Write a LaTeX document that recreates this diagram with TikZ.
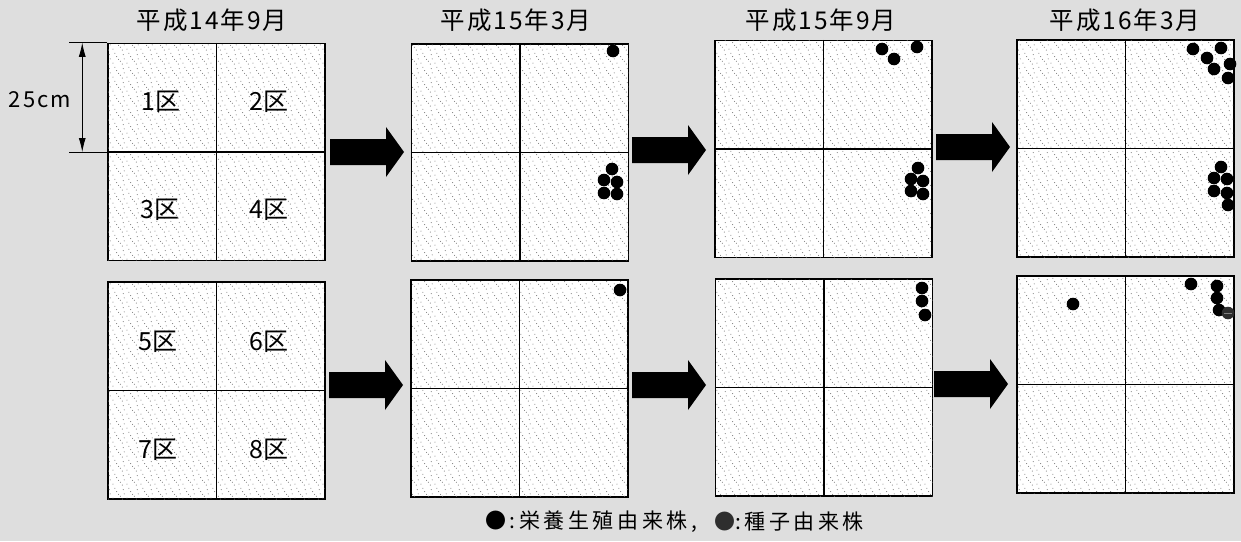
\documentclass[tikz,border=0pt]{standalone}
\usepackage{fontspec}
\setmainfont{Noto Sans CJK JP}
\newfontfamily\jpt[LetterSpace=8]{Noto Sans CJK JP}
\newfontfamily\jpl[LetterSpace=4]{Noto Sans CJK JP}
\newfontfamily\jpw[LetterSpace=10]{Noto Sans CJK JP}
\newfontfamily\jpg[LetterSpace=17]{Noto Sans CJK JP}
\usetikzlibrary{patterns,arrows.meta}
\definecolor{bg}{gray}{0.87}
\definecolor{seed}{gray}{0.18}
\pgfdeclarepatternformonly{speckle}{\pgfpointorigin}{\pgfqpoint{14pt}{14pt}}{\pgfqpoint{14pt}{14pt}}{%
  \pgfpathcircle{\pgfqpoint{1pt}{2pt}}{0.55pt}
  \pgfpathcircle{\pgfqpoint{5pt}{9pt}}{0.55pt}
  \pgfpathcircle{\pgfqpoint{9pt}{4pt}}{0.55pt}
  \pgfpathcircle{\pgfqpoint{12pt}{11pt}}{0.55pt}
  \pgfpathcircle{\pgfqpoint{3pt}{12.5pt}}{0.55pt}
  \pgfpathcircle{\pgfqpoint{7pt}{6pt}}{0.55pt}
  \pgfpathcircle{\pgfqpoint{11pt}{1pt}}{0.55pt}
  \pgfpathcircle{\pgfqpoint{13pt}{6.5pt}}{0.55pt}
  \pgfusepath{fill}}
\tikzset{
  panel/.style={draw=black, line width=1.5pt, fill=white, minimum width=217pt, minimum height=217pt,
    inner sep=0pt, postaction={pattern=speckle, pattern color=black!55}},
  divider/.style={draw=black, line width=1.3pt},
  title/.style={font=\fontsize{24.5}{24.5}\selectfont\jpt, inner sep=0pt},
  plot/.style={font=\fontsize{25}{25}\selectfont\jpl, inner sep=0pt},
  legend/.style={font=\fontsize{21}{21}\selectfont\jpg, inner sep=0pt, anchor=west},
  dot/.style={fill=black},
  seeddot/.style={fill=seed},
  barrow/.pic={\fill[black] (0,-13) -- (56,-13) -- (56,-25) -- (74,0) -- (56,25) -- (56,13) -- (0,13) -- cycle;},
}
\begin{document}
\begin{tikzpicture}[x=1pt,y=-1pt]
\fill[bg] (0,0) rectangle (1241,541);
\useasboundingbox (0,0) rectangle (1241,541);
% titles
\node[title] (t1) at (212,20) {平成14年9月};
\node[title] (t2) at (516,20) {平成15年3月};
\node[title] (t3) at (821,20) {平成15年9月};
\node[title] (t4) at (1125,20) {平成16年3月};
% panels
\foreach \n/\x/\y in {p11/216.5/152, p12/520/152.5, p13/823.5/149, p14/1125.5/148.5,
                      p21/216.5/390.5, p22/519.5/388.5, p23/824/387.5, p24/1125.5/384.5}{
  \node[panel] (\n) at (\x,\y) {};
  \draw[divider] (\n.north) -- (\n.south);
  \draw[divider] (\n.west) -- (\n.east);
}
% plot labels
\node[plot] (l1) at (161,102) {1区};
\node[plot] (l2) at (269,102) {2区};
\node[plot] (l3) at (160,210) {3区};
\node[plot] (l4) at (269,210) {4区};
\node[plot] (l5) at (158,342) {5区};
\node[plot] (l6) at (269,342) {6区};
\node[plot] (l7) at (158,450) {7区};
\node[plot] (l8) at (269,450) {8区};
% dimension
\coordinate (dtop) at (p11.north west);
\coordinate (dmid) at (p11.west);
\draw[line width=0.8pt] (dtop) -- ++(-38,0);
\draw[line width=0.8pt] (dmid) -- ++(-38,0);
\draw[line width=0.8pt, {Latex[length=14pt,width=7pt]}-{Latex[length=14pt,width=7pt]}] ([xshift=-25pt]dtop) -- ([xshift=-25pt]dmid);
\node[font=\fontsize{22}{22}\selectfont\jpw, inner sep=0pt] (dim) at (40,100) {25cm};
% arrows
\pic at (330,152) {barrow};
\pic at (632,150) {barrow};
\pic at (936,147) {barrow};
\pic at (329,385) {barrow};
\pic at (632,385) {barrow};
\pic at (934,384) {barrow};
% dots
\foreach \x/\y in {613/51, 612/169, 604/180, 617/182, 604/193, 617/194,
  882/49, 894/59, 917/47, 918/168, 911/179, 923/181, 911/191, 923/194,
  1193/49, 1221/48, 1207/58, 1230/64, 1214/69, 1228/78,
  1221/167, 1214/178, 1227/179, 1214/191, 1227/193, 1228/205,
  620/290, 922/288, 922/301, 925/315,
  1073/304, 1191/284, 1217/286, 1217/298, 1219/310}
  \fill[dot] (\x,\y) circle (6.3);
\fill[seeddot] (1228,313) circle (6.3);
\draw[gray, line width=0.6pt] (1224,313) -- (1232,313);
% legend
\node[legend] (leg1) at (485,522) {●:栄養生殖由来株,};
\node[legend] (leg2) at (714,522) {\textcolor{seed}{●}:種子由来株};
\end{tikzpicture}
\end{document}
